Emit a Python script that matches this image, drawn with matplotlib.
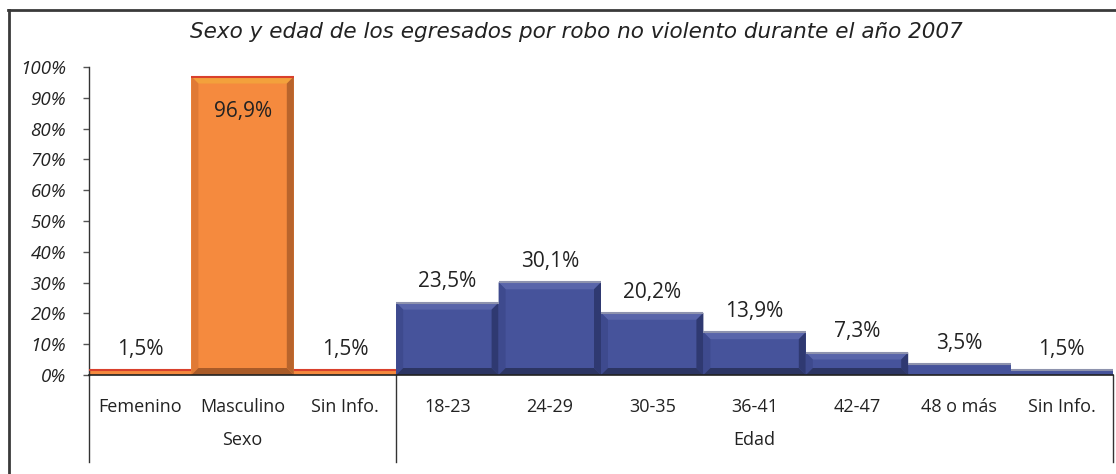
import matplotlib
matplotlib.use('Agg')
import matplotlib.pyplot as plt
from matplotlib.patches import Polygon
from matplotlib.lines import Line2D
from matplotlib.transforms import blended_transform_factory

# ---------------- data ----------------
categories = ['Femenino', 'Masculino', 'Sin Info.', '18-23', '24-29', '30-35',
              '36-41', '42-47', '48 o más', 'Sin Info.']
groups = ['Sexo', 'Edad']
group_sizes = [3, 7]
values = [1.5, 96.9, 1.5, 23.5, 30.1, 20.2, 13.9, 7.3, 3.5, 1.5]
value_labels = ['1,5%', '96,9%', '1,5%', '23,5%', '30,1%', '20,2%', '13,9%',
                '7,3%', '3,5%', '1,5%']
yticks = list(range(0, 101, 10))
ytick_labels = [f'{t}%' for t in yticks]
title = 'Sexo y edad de los egresados por robo no violento durante el año 2007'

# ---------------- styles ----------------
palettes = [
    dict(face='#F58A3E', top='#F3A13C', left='#E07A35', right='#B8642C',
         bottom='#A95B28', edge='#D9402C'),
    dict(face='#46539B', top='#5965AA', left='#3E4A8E', right='#2F3971',
         bottom='#2C3563', edge='#8E93AE'),
]
TXT = '#222222'
lab_font = ['Open Sans', 'DejaVu Sans']

W, H = 1116, 474
fig = plt.figure(figsize=(W / 100, H / 100), dpi=100)
ax_l, ax_r, ax_t, ax_b = 89, 1113, 67, 375
ax = fig.add_axes([ax_l / W, (H - ax_b) / H, (ax_r - ax_l) / W, (ax_b - ax_t) / H])

ax.set_xlim(-0.5, len(categories) - 0.5)
ax.set_ylim(0, 100)

# bevel sizes in data units
px_x = (len(categories)) / (ax_r - ax_l)
px_y = 100 / (ax_b - ax_t)
bx = 7 * px_x
by = 7 * px_y

group_of = []
for gi, n in enumerate(group_sizes):
    group_of += [gi] * n

for i, v in enumerate(values):
    pal = palettes[group_of[i]]
    ax.bar(i, v, width=1.0, color=pal['face'], linewidth=0, zorder=2)
    x0, x1 = i - 0.5, i + 0.5
    if v > 2 * by + 0.5:
        facets = [
            ([(x0, v), (x1, v), (x1 - bx, v - by), (x0 + bx, v - by)], pal['top']),
            ([(x0, 0), (x0, v), (x0 + bx, v - by), (x0 + bx, by)], pal['left']),
            ([(x1, 0), (x1, v), (x1 - bx, v - by), (x1 - bx, by)], pal['right']),
            ([(x0, 0), (x1, 0), (x1 - bx, by), (x0 + bx, by)], pal['bottom']),
        ]
        for pts, c in facets:
            ax.add_patch(Polygon(pts, closed=True, facecolor=c, edgecolor='none', zorder=3))
    ax.plot([x0, x1], [v, v], color=pal['edge'], lw=1.5, zorder=4,
            solid_capstyle='butt')

# value labels
for i, (v, lab) in enumerate(zip(values, value_labels)):
    y = v - 11.5 if v > 90 else v + 6.7
    ax.text(i, y, lab, ha='center', va='center', fontsize=15,
            family=lab_font, color=TXT, zorder=5)

# axes styling
for s in ['top', 'right']:
    ax.spines[s].set_visible(False)
ax.spines['left'].set_color('#333333')
ax.spines['bottom'].set_color('#222222')
ax.spines['left'].set_linewidth(1.0)
ax.spines['bottom'].set_linewidth(1.2)
ax.spines['bottom'].set_zorder(6)
ax.set_yticks(yticks)
ax.set_yticklabels(ytick_labels, fontsize=13.5, style='italic',
                   family=lab_font, color=TXT)
ax.tick_params(axis='y', direction='out', length=4.5, width=1.0,
               color='#555555', pad=12)
ax.set_xticks([])

# category labels & group labels
tr = blended_transform_factory(ax.transData, ax.transAxes)
axh = ax_b - ax_t
for i, c in enumerate(categories):
    ax.text(i, -(407 - ax_b) / axh, c, transform=tr, ha='center', va='center',
            fontsize=13, family=lab_font, color=TXT)
start = 0
bounds = [-0.5]
for g, n in zip(groups, group_sizes):
    center = start + (n - 1) / 2
    ax.text(center, -(440 - ax_b) / axh, g, transform=tr, ha='center',
            va='center', fontsize=13, family=lab_font, color=TXT)
    start += n
    bounds.append(start - 0.5)
for b in bounds:
    ax.add_line(Line2D([b, b], [0, -(462 - ax_b) / axh], transform=tr,
                       color='#333333', lw=1.0, clip_on=False))

# title
fig.text(576 / W, 1 - 32 / H, title, ha='center', va='center', fontsize=15.5,
         style='italic', family='DejaVu Sans', color=TXT)

# outer frame
fig.add_artist(Line2D([9 / W, 9 / W], [0, 1 - 10 / H], transform=fig.transFigure,
                      color='#3A3A3A', lw=2.0))
fig.add_artist(Line2D([8 / W, 1], [1 - 10 / H, 1 - 10 / H], transform=fig.transFigure,
                      color='#3A3A3A', lw=2.0))

fig.savefig('out.png', dpi=100)
